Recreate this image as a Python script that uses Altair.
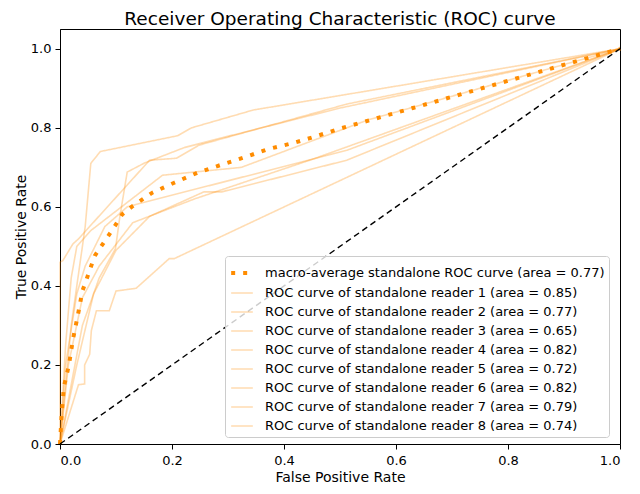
import altair as alt
import pandas as pd

TITLE = "Receiver Operating Characteristic (ROC) curve"

macro_label = "macro-average standalone ROC curve (area = 0.77)"
reader_areas = [0.85, 0.77, 0.65, 0.82, 0.72, 0.82, 0.79, 0.74]
reader_labels = [f"ROC curve of standalone reader {i + 1} (area = {a:.2f})" for i, a in enumerate(reader_areas)]
labels = [macro_label] + reader_labels

macro_fpr = [0, 0.003, 0.007, 0.016, 0.023, 0.032, 0.04, 0.048, 0.062, 0.074, 0.086, 0.099, 0.111,
             0.129, 0.165, 0.204, 0.245, 0.287, 0.331, 0.371, 0.415, 0.456, 0.5, 0.63, 1.0]
macro_tpr = [0, 0.077, 0.145, 0.2, 0.264, 0.327, 0.387, 0.419, 0.476, 0.501, 0.526, 0.554, 0.581,
             0.601, 0.636, 0.661, 0.686, 0.706, 0.726, 0.746, 0.761, 0.778, 0.798, 0.85, 1.0]

r1_fpr = [0, 0.02, 0.045, 0.055, 0.072, 0.21, 0.235, 0.345, 1.0]
r1_tpr = [0, 0.30, 0.55, 0.71, 0.74, 0.78, 0.80, 0.845, 1.0]

r2_fpr = [0, 0.01, 0.03, 0.045, 0.08, 0.12, 0.16, 0.512, 1.0]
r2_tpr = [0, 0.20, 0.38, 0.45, 0.55, 0.60, 0.615, 0.743, 1.0]

r3_fpr = [0, 0.033, 0.044, 0.044, 0.053, 0.056, 0.065, 0.088, 0.10, 0.136, 0.195, 0.204, 1.0]
r3_tpr = [0, 0.15, 0.152, 0.20, 0.227, 0.287, 0.337, 0.337, 0.387, 0.394, 0.469, 0.469, 1.0]

r4_fpr = [0, 0, 0.005, 0.023, 0.033, 0.16, 0.208, 0.248, 0.512, 1.0]
r4_tpr = [0, 0.46, 0.464, 0.506, 0.519, 0.718, 0.723, 0.756, 0.86, 1.0]

r5_fpr = [0, 0.03, 0.06, 0.10, 0.16, 0.257, 0.289, 0.512, 1.0]
r5_tpr = [0, 0.20, 0.38, 0.49, 0.576, 0.638, 0.638, 0.718, 1.0]

r6_fpr = [0, 0.04, 0.07, 0.099, 0.107, 0.12, 0.151, 0.222, 0.29, 0.50, 1.0]
r6_tpr = [0, 0.30, 0.42, 0.494, 0.576, 0.688, 0.711, 0.75, 0.775, 0.85, 1.0]

r7_fpr = [0, 0.01, 0.02, 0.03, 0.055, 0.183, 0.324, 0.55, 1.0]
r7_tpr = [0, 0.25, 0.42, 0.50, 0.54, 0.68, 0.70, 0.82, 1.0]

r8_fpr = [0, 0.015, 0.04, 0.07, 0.13, 0.24, 0.45, 1.0]
r8_tpr = [0, 0.20, 0.37, 0.45, 0.56, 0.62, 0.72, 1.0]

diag_fpr = [0, 1]
diag_tpr = [0, 1]

reader_curves = [(r1_fpr, r1_tpr), (r2_fpr, r2_tpr), (r3_fpr, r3_tpr), (r4_fpr, r4_tpr),
                 (r5_fpr, r5_tpr), (r6_fpr, r6_tpr), (r7_fpr, r7_tpr), (r8_fpr, r8_tpr)]

rows = []
for lab, (fx, ty) in zip(reader_labels, reader_curves):
    for i, (a, b) in enumerate(zip(fx, ty)):
        rows.append({"series": lab, "idx": i, "fpr": a, "tpr": b})
readers_df = pd.DataFrame(rows)
macro_df = pd.DataFrame({"series": macro_label, "idx": list(range(len(macro_fpr))),
                         "fpr": macro_fpr, "tpr": macro_tpr})
diag_df = pd.DataFrame({"idx": [0, 1], "fpr": diag_fpr, "tpr": diag_tpr})

FONT = "DejaVu Sans"
x_enc = alt.X("fpr:Q", scale=alt.Scale(domain=[0, 1], nice=False, zero=False),
              axis=alt.Axis(values=[0, 0.2, 0.4, 0.6, 0.8, 1.0], format=".1f", title="False Positive Rate",
                            labelPadding=5, titlePadding=3))
y_enc = alt.Y("tpr:Q", scale=alt.Scale(domain=[0, 1.05], nice=False, zero=False),
              axis=alt.Axis(values=[0, 0.2, 0.4, 0.6, 0.8, 1.0], format=".1f", title="True Positive Rate",
                            labelPadding=4, titlePadding=2))

legend = alt.Legend(orient="none", legendX=165, legendY=227, symbolType="stroke", symbolSize=470,
                    labelFontSize=13, labelFont=FONT, labelLimit=420, labelColor="black", labelOffset=10,
                    padding=4, fillColor="rgba(255,255,255,0.8)", strokeColor="#cccccc",
                    cornerRadius=3, rowPadding=0, title=None)

enc = dict(
    x=x_enc,
    y=y_enc,
    order=alt.Order("idx:Q"),
    color=alt.Color("series:N", scale=alt.Scale(domain=labels, range=["#ff8c00"] * 9), legend=legend, title=None),
    opacity=alt.Opacity("series:N", scale=alt.Scale(type="ordinal", domain=labels, range=[1] + [0.3] * 8),
                        legend=legend, title=None),
    strokeDash=alt.StrokeDash("series:N", scale=alt.Scale(domain=labels, range=[[4, 8]] + [[1, 0]] * 8),
                              legend=legend, title=None),
    strokeWidth=alt.StrokeWidth("series:N", scale=alt.Scale(type="ordinal", domain=labels, range=[4] + [1.6] * 8),
                                legend=legend, title=None),
)

readers = alt.Chart(readers_df).mark_line(strokeCap="butt").encode(**enc)
macro = alt.Chart(macro_df).mark_line(strokeCap="butt").encode(**enc)
diag = alt.Chart(diag_df).mark_line(color="black", strokeDash=[6, 4], strokeWidth=1.4).encode(
    x=x_enc, y=y_enc, order=alt.Order("idx:Q"))

chart = alt.layer(readers, macro, diag).properties(
    width=560, height=415,
    title=alt.TitleParams(text=TITLE, fontSize=18.5, font=FONT, fontWeight="normal", color="black", offset=1),
    autosize=alt.AutoSizeParams(type="none"),
    padding={"left": 52, "top": 21, "right": 12, "bottom": 42},
).configure_view(stroke="black", strokeWidth=1).configure_axis(
    labelFont=FONT, labelFontSize=13, labelColor="black", titleFont=FONT, titleFontSize=14,
    titleFontWeight="normal", titleColor="black", tickColor="black", domainColor="black",
    tickSize=5, grid=False
)

chart.save("out.html", embed_options={"renderer": "svg", "actions": False})
